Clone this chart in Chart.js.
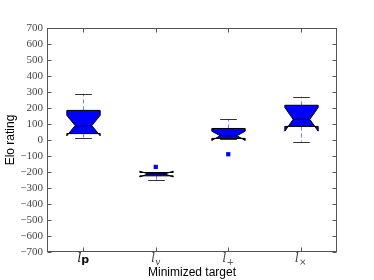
<!DOCTYPE html>
<html>
<head>
<meta charset="utf-8">
<script src="https://cdn.jsdelivr.net/npm/chart.js@4.4.0/dist/chart.umd.min.js"></script>
<style>
  html, body { margin: 0; padding: 0; background: #fff; }
  #wrap { width: 374px; height: 280px; }
</style>
</head>
<body>
<div id="wrap"><canvas id="myChart" width="374" height="280"></canvas></div>
<script>
// categories and their tick text (base letter + subscript)
const categories = ['l_p', 'l_v', 'l_+', 'l_×'];
const tickBase = ['l', 'l', 'l', 'l'];
const tickSub = ['p', 'v', '+', '×'];

// box plot values, one per category
const whiskerHigh = [290, -200, 132, 271];
const q3 = [185, -203, 72, 217];
const median = [90, -212, 27, 129];
const q1 = [40, -224, 10, 85];
const whiskerLow = [13, -250, 8, -11];
const notchHigh = [154, -195, 55, 203];
const notchLow = [26, -231, -3, 55];

// outliers
const outlierCat = ['l_v', 'l_+'];
const outlierVal = [-168, -89];

// y axis
const yMin = -700;
const yMax = 700;
const yStep = 100;

const frameColor = '#555';
const labelColor = '#444';

const boxPlugin = {
    id: 'boxes',
    beforeDatasetsDraw(chart) {
        const ctx = chart.ctx;
        const x = chart.scales.x;
        const y = chart.scales.y;
        const boxW = x.width / categories.length * 0.46;

        categories.forEach((c, i) => {
            const cx = Math.round(x.getPixelForValue(i)) + 0.5;
            const half = boxW / 2;
            const inner = boxW / 4;

            ctx.save();
            //whiskers
            ctx.strokeStyle = 'rgba(60,60,255,0.7)';
            ctx.lineWidth = 1;
            ctx.setLineDash([4, 3]);
            ctx.beginPath();
            ctx.moveTo(cx, y.getPixelForValue(q3[i]));
            ctx.lineTo(cx, y.getPixelForValue(whiskerHigh[i]));
            ctx.moveTo(cx, y.getPixelForValue(q1[i]));
            ctx.lineTo(cx, y.getPixelForValue(whiskerLow[i]));
            ctx.stroke();
            ctx.setLineDash([]);

            //caps
            ctx.strokeStyle = '#333';
            ctx.beginPath();
            let yh = Math.round(y.getPixelForValue(whiskerHigh[i])) + 0.5;
            let yl = Math.round(y.getPixelForValue(whiskerLow[i])) + 0.5;
            ctx.moveTo(cx - inner, yh);
            ctx.lineTo(cx + inner, yh);
            ctx.moveTo(cx - inner, yl);
            ctx.lineTo(cx + inner, yl);
            ctx.stroke();

            //notched box
            const pq1 = y.getPixelForValue(q1[i]);
            const pq3 = y.getPixelForValue(q3[i]);
            const pm = y.getPixelForValue(median[i]);
            const pnl = y.getPixelForValue(notchLow[i]);
            const pnh = y.getPixelForValue(notchHigh[i]);
            ctx.beginPath();
            ctx.moveTo(cx - half, pq1);
            ctx.lineTo(cx + half, pq1);
            ctx.lineTo(cx + half, pnl);
            ctx.lineTo(cx + inner, pm);
            ctx.lineTo(cx + half, pnh);
            ctx.lineTo(cx + half, pq3);
            ctx.lineTo(cx - half, pq3);
            ctx.lineTo(cx - half, pnh);
            ctx.lineTo(cx - inner, pm);
            ctx.lineTo(cx - half, pnl);
            ctx.closePath();
            ctx.fillStyle = '#0000ff';
            ctx.fill();
            ctx.strokeStyle = '#000';
            ctx.lineWidth = 1;
            ctx.stroke();

            //median
            ctx.beginPath();
            ctx.lineWidth = 1.2;
            ctx.moveTo(cx - inner, pm);
            ctx.lineTo(cx + inner, pm);
            ctx.stroke();
            ctx.restore();
        });
    },
    afterDraw(chart) {
        const ctx = chart.ctx;
        const a = chart.chartArea;
        const x = chart.scales.x;
        const y = chart.scales.y;
        ctx.save();
        ctx.strokeStyle = frameColor;
        ctx.lineWidth = 1;
        const l = Math.round(a.left) + 0.5, r = Math.round(a.right) - 0.5;
        const t = Math.round(a.top) + 0.5, b = Math.round(a.bottom) - 0.5;
        ctx.strokeRect(l, t, r - l, b - t);

        //ticks pointing in
        ctx.beginPath();
        y.ticks.forEach((tk) => {
            const py = Math.round(y.getPixelForValue(tk.value)) + 0.5;
            ctx.moveTo(l, py); ctx.lineTo(l + 4, py);
            ctx.moveTo(r, py); ctx.lineTo(r - 4, py);
        });
        categories.forEach((c, i) => {
            const px = Math.round(x.getPixelForValue(i)) + 0.5;
            ctx.moveTo(px, b); ctx.lineTo(px, b - 4);
            ctx.moveTo(px, t); ctx.lineTo(px, t + 4);
        });
        ctx.stroke();

        //x tick labels: l with subscript
        ctx.textBaseline = 'alphabetic';
        categories.forEach((c, i) => {
            const px = x.getPixelForValue(i);
            const baseFont = 'italic 12px "DejaVu Serif"';
            const subFont = tickSub[i] === 'p' ? 'bold 11px "DejaVu Sans"'
                : (tickSub[i] === 'v' ? 'italic 9px "DejaVu Serif"' : '9px "DejaVu Serif"');
            ctx.font = baseFont;
            const w1 = ctx.measureText(tickBase[i]).width;
            ctx.font = subFont;
            const w2 = ctx.measureText(tickSub[i]).width;
            const start = px - (w1 + w2) / 2;
            ctx.font = baseFont;
            ctx.fillStyle = tickSub[i] === 'p' ? '#111' : labelColor;
            ctx.fillText(tickBase[i], start, 262);
            ctx.font = subFont;
            ctx.fillText(tickSub[i], start + w1, tickSub[i] === 'p' ? 263 : 265);
        });
        ctx.restore();
    }
};

const ctx = document.getElementById('myChart');

let chart = new Chart(ctx, {
    type: 'line',
    data: {
        labels: categories,
        datasets: [{
            label: 'outliers',
            data: outlierCat.map((c, i) => ({ x: c, y: outlierVal[i] })),
            showLine: false,
            pointStyle: 'rect',
            pointRadius: 3,
            backgroundColor: '#0000ff',
            borderColor: '#0000ff',
            borderWidth: 0
        }]
    },
    options: {
        responsive: false,
        animation: false,
        layout: { padding: { top: 28, right: 37, left: 0, bottom: 0 } },
        plugins: { legend: { display: false }, tooltip: { enabled: false } },
        scales: {
            x: {
                type: 'category',
                offset: true,
                grid: { display: false },
                border: { display: false },
                ticks: { display: false },
                title: {
                    display: true,
                    text: 'Minimized target',
                    color: '#000',
                    font: { family: '"Liberation Sans"', size: 12 },
                    padding: { top: 0, bottom: 0 }
                },
                afterFit: (scale) => { scale.height = 28; }
            },
            y: {
                min: yMin,
                max: yMax,
                grid: { display: false, drawTicks: false },
                border: { display: false },
                ticks: {
                    stepSize: yStep,
                    autoSkip: false,
                    padding: 4,
                    color: labelColor,
                    font: { family: '"Liberation Serif"', size: 11 },
                    callback: (v) => String(v).replace('-', '\u2212')
                },
                title: {
                    display: true,
                    text: 'Elo rating',
                    color: '#000',
                    font: { family: '"Liberation Sans"', size: 12 },
                    padding: { top: 3, bottom: 0 }
                },
                afterFit: (scale) => { scale.width = 47; }
            }
        }
    },
    plugins: [boxPlugin]
});
</script>
</body>
</html>
